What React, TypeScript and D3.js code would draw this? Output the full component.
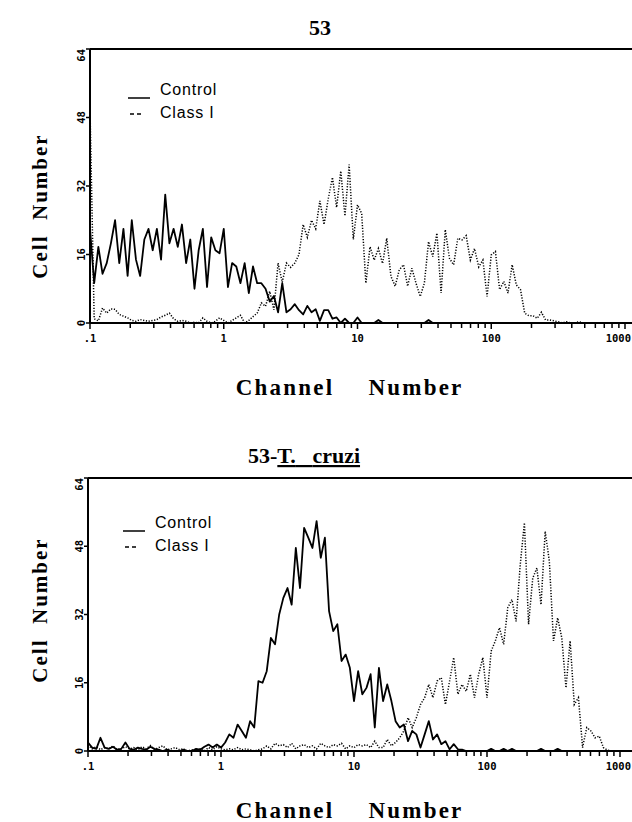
import React from 'react';
import * as d3 from 'd3';

// 128 channels over four decades (0.1 .. 1000), 32 channels per decade
const CHANNELS_PER_DECADE = 32;

const xTickValues = [0.1, 1, 10, 100, 1000];
const xTickLabels = ['.1', '1', '10', '100', '1000'];
const yTicks = [0, 16, 32, 48, 64];

// panel "53"
const topControl = [
  22, 9.3, 17.8, 11.5, 14, 18.6, 24, 14, 22, 11,
  24, 14.8, 11, 19.5, 22, 17, 22, 14.8, 30, 18.6,
  22, 17.8, 23, 14, 19.5, 8, 17, 22, 8.4, 20,
  17, 16.3, 22, 8.4, 14, 13.2, 9.3, 14, 7, 13.2,
  9.3, 9.3, 8, 5, 6.3, 2.5, 9.3, 2.5, 3.2, 4.4,
  3, 2, 4, 2.5, 3.2, 0.5, 3, 3, 1, 1.3,
  0, 1, 0, 0, 1.3, 0, 0, 0, 0, 0.7,
  0, 0, 0, 0, 0, 0, 0, 0, 0, 0,
  0, 0.7, 0, 0, 0, 0, 0, 0, 0, 0,
  0, 0, 0, 0, 0, 0, 0, 0, 0, 0,
  0, 0, 0, 0, 0, 0, 0, 0, 0, 0,
  0, 0, 0, 0, 0, 0, 0, 0, 0, 0,
  0, 0, 0, 0, 0, 0, 0, 0,
];
const topClassI = [
  50, 1, 0.5, 3.5, 2.3, 3.3, 3.2, 2, 1.6, 1.2,
  0.6, 0.4, 0.8, 0.6, 0.4, 0.6, 0.8, 1.4, 1.8, 2.3,
  1, 0.4, 0.6, 0.4, 0, 0.2, 0, 1.2, 0.4, 0,
  0.4, 1.2, 0.6, 0, 0.6, 1.2, 1.8, 0, 0.6, 1.5,
  2.3, 4.7, 3.9, 7.4, 3.1, 14, 9.5, 14, 13, 14,
  16, 23, 20, 24, 22, 28.5, 23, 29, 34, 27,
  35.5, 25, 37, 19.5, 27.6, 25.6, 9.3, 17.8, 14.7, 17.4,
  13.9, 19.8, 10.9, 8.6, 12.4, 13.6, 8.6, 12.8, 9.3, 6.2,
  9.3, 19, 15.5, 21, 7, 21.8, 15.1, 13.6, 19.8, 19.4,
  20.4, 14.7, 17.4, 13.1, 14.7, 6.2, 15.9, 16.7, 7.8, 9.7,
  7, 13.6, 8.9, 7.8, 2.3, 1.7, 1.7, 1.1, 2.5, 0.7,
  0.7, 0.5, 0.3, 0, 0.3, 0, 0, 0.3, 0, 0,
  0, 0, 0, 0, 0, 0, 0, 0,
];

// panel "53-T. cruzi"
const bottomControl = [
  2, 0.8, 0.5, 3.1, 0.8, 0.5, 1, 0.3, 0.5, 2,
  0.5, 0.3, 0.8, 0.5, 0.3, 1, 0.5, 0.3, 0, 0.3,
  0, 0, 0, 0.3, 0, 0, 0.5, 0.3, 1, 1.5,
  0.8, 1.5, 0.8, 2, 3.9, 3.1, 6.2, 4.7, 3.1, 7,
  5.5, 16.4, 16, 18.7, 26.5, 25, 32, 35.9, 38.2, 34.3,
  47.6, 38.2, 52.3, 50, 47.6, 53.9, 45.3, 50, 32.8, 28.1,
  29.7, 21.1, 22.6, 19.5, 11.7, 18.7, 13.3, 14.8, 18, 5.5,
  19.5, 11.7, 15.6, 11.7, 7, 5.5, 6.2, 2.3, 4.7, 3.9,
  0.8, 3.9, 7, 2.7, 3.9, 1.6, 2.3, 0.4, 1.6, 0.4,
  0.3, 0, 0, 0, 0, 0, 0, 0.5, 0, 0,
  0.5, 0, 0.5, 0, 0, 0, 0, 0, 0, 0.5,
  0, 0, 0, 0.5, 0, 0, 0, 0, 0, 0,
  0, 0, 0, 0, 0, 0, 0, 0,
];
const bottomClassI = [
  1.5, 0.5, 1, 0.3, 0.8, 0.5, 1.2, 0.3, 0.5, 1,
  0.5, 0.8, 0.3, 1, 0.5, 1.3, 0.3, 0.8, 1.2, 0.3,
  0.5, 0.8, 0.3, 0.5, 0, 0.3, 0, 0.5, 0, 0.8,
  0.3, 1, 0.5, 0.3, 0.5, 0.3, 0.8, 0.3, 0.5, 0.3,
  0, 0.3, 0.5, 1.2, 0.5, 1.8, 1.2, 1.5, 0.8, 1.8,
  0.5, 1.2, 1.5, 0.8, 1.2, 0.5, 1.8, 1.2, 0.8, 1.5,
  1.2, 1.8, 0.5, 1.2, 0.8, 1.5, 1.2, 1.5, 0.8, 2.3,
  0.8, 0.8, 2.7, 1.2, 2, 3.1, 4.7, 7.8, 5.5, 7.8,
  10.9, 12.5, 15.6, 12.5, 16.4, 17.2, 10.9, 16.4, 21.9, 13.3,
  15.6, 14, 18, 12.5, 18, 21.9, 12.5, 23.4, 25.8, 28.9,
  25, 33.6, 35.5, 30.4, 43.7, 53.5, 29.7, 40.5, 42.9, 34.3,
  51.5, 44.5, 25.8, 31.2, 26.5, 14.8, 25.8, 10.9, 12.5, 0.8,
  5.5, 4.7, 3.1, 3.5, 0.8, 0.2, 0, 0,
];

const channelValue = (i: number) => 0.1 * Math.pow(10, i / CHANNELS_PER_DECADE);

const SERIF = '"Liberation Serif", "DejaVu Serif", serif';
const SANS = '"Liberation Sans", Arial, sans-serif';
const MONO = '"DejaVu Sans Mono", "Liberation Mono", monospace';

interface PanelProps {
  top: number;
  base: number;
  left: number;
  right: number; // pixel of 1000
  control: number[];
  classI: number[];
  legendX: number;
  legendY: number;
  yLabelY: number;
  xLabelY: number;
}

const Panel: React.FC<PanelProps> = ({ top, base, left, right, control, classI, legendX, legendY, yLabelY, xLabelY }) => {
  const x = d3.scaleLog().domain([0.1, 1000]).range([left, right]);
  const y = d3.scaleLinear().domain([0, 64]).range([base, top]);

  const line = d3.line<number>()
    .x((_, i) => x(channelValue(i)))
    .y(d => y(d));

  const minorTicks = x.ticks();

  return (
    <g>
      {/* frame */}
      <line x1={left} x2={left} y1={top} y2={base} stroke="#000" strokeWidth={2} />
      <line x1={left} x2={632} y1={top} y2={top} stroke="#000" strokeWidth={2} />
      <line x1={left} x2={632} y1={base} y2={base} stroke="#000" strokeWidth={2} />

      {/* x ticks */}
      {minorTicks.map((t, i) => (
        <line key={i} x1={x(t)} x2={x(t)} y1={base} y2={base + (xTickValues.includes(t) ? 6 : 5)}
          stroke="#000" strokeWidth={1.5} />
      ))}
      {xTickValues.map((t, i) => (
        <text key={t} x={i === 4 ? 631 : x(t)} y={base + 19} textAnchor={i === 4 ? 'end' : 'middle'}
          fontFamily={MONO} fontWeight="bold" fontSize={10.5}>{xTickLabels[i]}</text>
      ))}

      {/* y ticks */}
      {yTicks.map(t => (
        <g key={t}>
          <line x1={left - 4} x2={left} y1={y(t)} y2={y(t)} stroke="#000" strokeWidth={1.5} />
          <text transform={`translate(${left - 5},${y(t)}) rotate(-90)`}
            textAnchor={t === 64 ? 'end' : 'middle'} fontFamily={MONO} fontWeight="bold" fontSize={10.5}>
            {t}
          </text>
        </g>
      ))}

      {/* series */}
      <path d={line(classI) || ''} fill="none" stroke="#000" strokeWidth={1.5} strokeDasharray="1.2 1.6" />
      <path d={line(control) || ''} fill="none" stroke="#000" strokeWidth={1.8} strokeLinejoin="round" />

      {/* legend */}
      <line x1={legendX} x2={legendX + 22} y1={legendY + 3} y2={legendY + 3} stroke="#000" strokeWidth={1.5} />
      <text x={legendX + 32} y={legendY} fontFamily={SANS} fontSize={16} letterSpacing={0.8}>Control</text>
      <line x1={legendX + 2} x2={legendX + 14} y1={legendY + 19} y2={legendY + 19} stroke="#000" strokeWidth={1.5} strokeDasharray="4 3" />
      <text x={legendX + 32} y={legendY + 23} fontFamily={SANS} fontSize={16} letterSpacing={0.8}>Class I</text>

      {/* axis titles */}
      <text transform={`translate(47,${yLabelY}) rotate(-90)`} textAnchor="middle" fontFamily={SERIF}
        fontWeight="bold" fontSize={21} letterSpacing={2}>Cell{'\u00a0\u00a0'}Number</text>
      <text x={285} y={xLabelY} textAnchor="middle" fontFamily={SERIF} fontWeight="bold" fontSize={23} letterSpacing={2.2}>Channel</text>
      <text x={416} y={xLabelY} textAnchor="middle" fontFamily={SERIF} fontWeight="bold" fontSize={23} letterSpacing={2.2}>Number</text>
    </g>
  );
};

export default function App() {
  return (
    <div style={{ position: 'absolute', left: 0, top: 0 }}>
      <svg width={632} height={822} style={{ display: 'block', background: '#fff' }}>
        <text x={320} y={35} textAnchor="middle" fontFamily={SERIF} fontWeight="bold" fontSize={22}>53</text>
        <Panel top={49} base={323} left={90} right={625} control={topControl} classI={topClassI}
          legendX={128} legendY={95} yLabelY={206} xLabelY={395} />

        <text x={248} y={463} fontFamily={SERIF} fontWeight="bold" fontSize={22}>
          53-<tspan textDecoration="underline">T.{'\u00a0\u00a0\u00a0'}cruzi</tspan>
        </text>
        <Panel top={478} base={751} left={88} right={620} control={bottomControl} classI={bottomClassI}
          legendX={123} legendY={528} yLabelY={610} xLabelY={818} />
      </svg>
    </div>
  );
}
